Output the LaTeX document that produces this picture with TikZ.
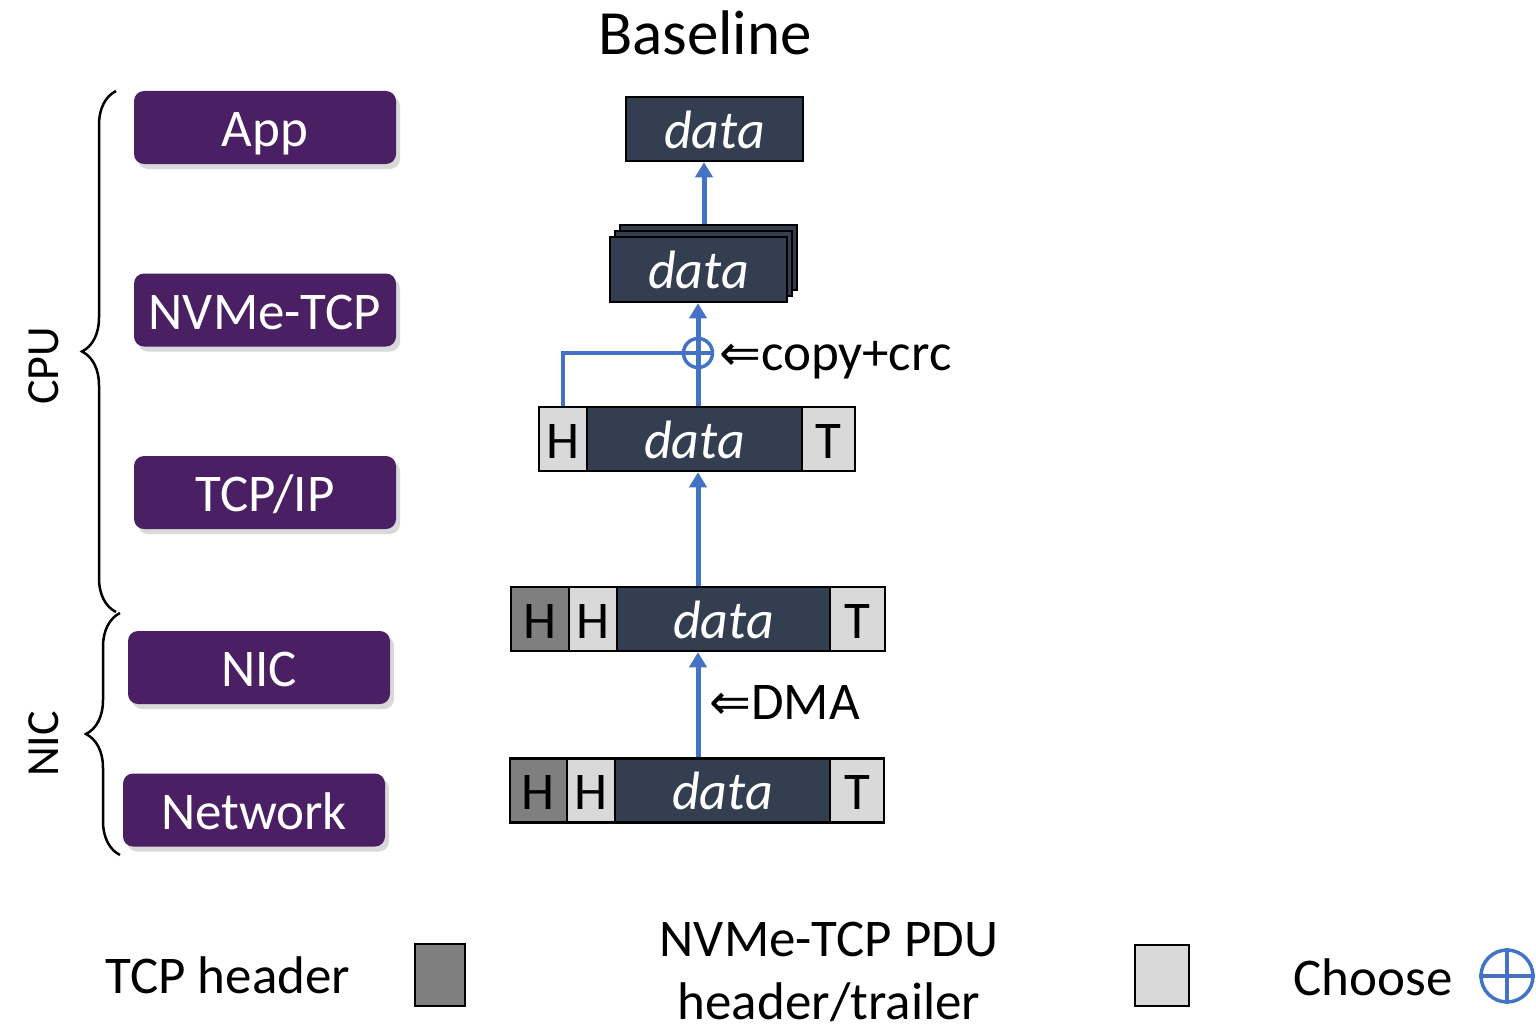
\documentclass[tikz,border=0pt]{standalone}
\usepackage{fontspec}
\setmainfont{Carlito}
\newfontfamily\arrowfont{DejaVu Sans}
\usetikzlibrary{arrows.meta,shadows,decorations.pathreplacing,calc}
\definecolor{purp}{RGB}{75,31,99}
\definecolor{navy}{RGB}{51,63,80}
\definecolor{lgray}{RGB}{217,217,217}
\definecolor{dgray}{RGB}{127,127,127}
\definecolor{ablue}{RGB}{68,114,196}
\newcommand\myfs[1]{\fontsize{#1}{#1}\selectfont}
\newcommand\larr{{\arrowfont\myfs{50}⇐}}
\begin{document}
\begin{tikzpicture}[x=1pt,y=-1pt,
  layerbox/.style={fill=purp, rounded corners=10pt, minimum width=262pt, minimum height=73pt,
    text=white, font=\myfs{53}, inner sep=0pt, text height=40pt, text depth=2pt,
    drop shadow={shadow xshift=4pt, shadow yshift=-5pt, opacity=0.3}},
  cell/.style={draw=black, line width=2.5pt, minimum height=64pt, inner sep=0pt, font=\myfs{53},
    text height=40pt, text depth=2pt},
  datacell/.style={cell, fill=navy, text=white, font=\myfs{54}\itshape},
  hl/.style={cell, fill=lgray},
  hd/.style={cell, fill=dgray},
  arr/.style={draw=ablue, line width=5pt, -{Triangle[width=17pt,length=15pt]}},
  conn/.style={draw=ablue, line width=3.5pt},
  lbl/.style={inner sep=0pt, font=\myfs{53}},
  brc/.style={draw=black, line width=2.5pt, decorate, decoration={brace, amplitude=34pt}}
]
\useasboundingbox (0,0) rectangle (1536,1030);

% title
\node[inner sep=0pt, font=\myfs{63}] (title) at (705,33) {Baseline};

% layer boxes
\node[layerbox] (app) at (265,127.5) {App};
\node[layerbox] (nvme) at (265,310) {NVMe-TCP};
\node[layerbox] (tcpip) at (265,492.5) {TCP/IP};
\node[layerbox] (nic) at (259,667.5) {NIC};
\node[layerbox] (net) at (254,810) {Network};

% braces
\coordinate (cpuTop) at (116,91);
\coordinate (cpuBot) at (116,612);
\coordinate (nicTop) at (120,613);
\coordinate (nicBot) at (120,855);
\draw[brc] (cpuBot) -- (cpuTop);
\draw[brc] (nicBot) -- (nicTop);
\node[lbl, rotate=90, font=\myfs{46}] (cpul) at (44,366) {CPU};
\node[lbl, rotate=90, font=\myfs{46}] (nicl) at (44,744) {NIC};

% top data
\node[datacell, minimum width=177pt] (topd) at (714.5,129) {data};

% stacked data
\node[datacell, minimum width=177pt, minimum height=65pt] (st3) at (708.5,257.5) {};
\node[datacell, minimum width=177pt, minimum height=65pt] (st2) at (703.5,263.5) {};
\node[datacell, minimum width=177pt, minimum height=65pt] (st1) at (698.5,269.5) {data};

% row 3
\node[hl, minimum width=48pt] (r3h) at (563,439) {H};
\node[datacell, minimum width=215pt] (r3d) at (694.5,439) {data};
\node[hl, minimum width=53pt] (r3t) at (828.5,439) {T};

% row 4
\node[hd, minimum width=58pt] (r4hd) at (540,619) {H};
\node[hl, minimum width=48pt] (r4hl) at (593,619) {H};
\node[datacell, minimum width=213pt] (r4d) at (723.5,619) {data};
\node[hl, minimum width=55pt] (r4t) at (857.5,619) {T};

% row 5
\node[hd, minimum width=57pt] (r5hd) at (538.5,790.5) {H};
\node[hl, minimum width=48pt] (r5hl) at (591,790.5) {H};
\node[datacell, minimum width=215pt] (r5d) at (722.5,790.5) {data};
\node[hl, minimum width=54pt] (r5t) at (857,790.5) {T};

% choose circle
\node[draw=ablue, line width=3.5pt, circle, minimum size=29pt, inner sep=0pt] (xo) at (698,353) {};
\coordinate (ax) at (704,0);

% connectors
\draw[arr] (st3.north -| ax) -- (topd.south -| ax);
\draw[arr] (r3d.north -| xo) -- (st1.south -| xo);
\draw[conn] (r3h.north) |- (xo.west) -- (xo.east);
\draw[arr] (r4d.north -| xo) -- (r3d.south -| xo);
\draw[arr] (r5d.north -| xo) -- (r4d.south -| xo);

% labels
\node[lbl, anchor=base west] (copyl) at (719,370) {\larr copy+crc};
\node[lbl, anchor=base west] (dmal) at (709,719) {\larr DMA};

% legend
\node[lbl] (lg1) at (228,975) {TCP header};
\node[hd, minimum width=50pt, minimum height=62pt] (lgsq1) at (440,975) {};
\node[lbl, align=center, font=\fontsize{53}{63}\selectfont] (lg2) at (829,972) {NVMe-TCP PDU\\header/trailer};
\node[hl, minimum width=54pt, minimum height=61pt] (lgsq2) at (1162,975.5) {};
\node[lbl] (lg3) at (1373,977) {Choose};
\node[draw=ablue, line width=3.5pt, circle, minimum size=52pt, inner sep=0pt] (lgxo) at (1507,976) {};
\draw[conn] (lgxo.north) -- (lgxo.south);
\draw[conn] (lgxo.west) -- (lgxo.east);
\end{tikzpicture}
\end{document}
